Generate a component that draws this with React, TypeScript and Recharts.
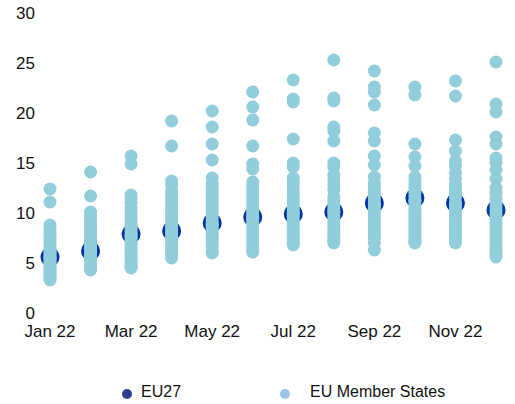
import { ScatterChart, Scatter, XAxis, YAxis, Legend } from "recharts";

const months = ["Jan 22", "Feb 22", "Mar 22", "Apr 22", "May 22", "Jun 22", "Jul 22", "Aug 22", "Sep 22", "Oct 22", "Nov 22", "Dec 22"];
const yTicks = [0, 5, 10, 15, 20, 25, 30];

const eu27 = [5.6, 6.2, 7.9, 8.2, 9.0, 9.6, 9.9, 10.1, 11.0, 11.5, 11.0, 10.3];

const jan = [12.4, 11.1, 8.8, 8.4, 8.0, 7.7, 7.5, 7.2, 6.9, 6.5, 6.2, 6.0, 5.8, 5.6, 5.4, 5.2, 5.0, 4.8, 4.6, 4.4, 4.2, 4.0, 3.8, 3.6, 3.4, 3.3, 5.5];
const feb = [14.1, 11.7, 10.1, 9.7, 9.3, 9.0, 8.7, 8.4, 8.1, 7.8, 7.5, 7.2, 7.0, 6.8, 6.5, 6.2, 6.0, 5.8, 5.6, 5.4, 5.2, 5.0, 4.8, 4.6, 4.4, 4.3, 6.6];
const mar = [15.7, 14.9, 11.8, 11.4, 11.0, 10.5, 10.0, 9.6, 9.2, 8.8, 8.5, 8.2, 7.9, 7.6, 7.3, 7.0, 6.7, 6.4, 6.1, 5.8, 5.5, 5.2, 5.0, 4.8, 4.6, 4.5, 7.7];
const apr = [19.2, 16.7, 13.2, 12.8, 12.2, 11.8, 11.4, 11.0, 10.6, 10.2, 9.9, 9.6, 9.3, 9.0, 8.7, 8.4, 8.1, 7.8, 7.5, 7.2, 6.9, 6.6, 6.3, 6.0, 5.8, 5.5, 8.0];
const may = [20.2, 18.6, 16.9, 15.3, 13.5, 12.9, 12.6, 12.2, 12.0, 11.6, 11.2, 10.8, 10.4, 10.0, 9.6, 9.2, 8.8, 8.5, 8.2, 7.9, 7.6, 7.3, 7.0, 6.6, 6.2, 6.0, 8.9];
const jun = [22.1, 20.6, 19.3, 16.7, 14.9, 14.4, 13.1, 12.6, 12.2, 11.8, 11.4, 11.0, 10.6, 10.3, 10.0, 9.7, 9.4, 9.1, 8.8, 8.4, 8.0, 7.6, 7.2, 6.8, 6.4, 6.1, 9.5];
const jul = [23.3, 21.4, 21.1, 17.4, 15.0, 14.6, 13.5, 13.0, 12.5, 12.0, 11.7, 11.3, 11.0, 10.6, 10.3, 10.0, 9.6, 9.2, 8.8, 8.5, 8.2, 7.9, 7.6, 7.3, 7.0, 6.8, 9.9];
const aug = [25.3, 21.5, 21.2, 18.6, 18.2, 17.2, 15.0, 14.6, 13.8, 13.3, 12.8, 12.3, 11.6, 11.2, 10.8, 10.4, 10.0, 9.6, 9.2, 8.8, 8.4, 8.1, 7.8, 7.5, 7.2, 7.0, 10.1];
const sep = [24.2, 22.6, 22.1, 20.8, 18.0, 17.2, 15.7, 14.8, 13.6, 13.0, 12.6, 12.2, 11.8, 11.4, 11.0, 10.6, 10.2, 9.8, 9.4, 9.0, 8.6, 8.2, 7.8, 7.5, 7.0, 6.3, 10.8];
const oct = [22.6, 21.8, 16.9, 15.6, 14.7, 13.6, 13.2, 12.8, 12.4, 12.0, 11.6, 11.2, 10.8, 10.4, 10.0, 9.7, 9.4, 9.1, 8.8, 8.5, 8.2, 7.9, 7.6, 7.3, 7.1, 7.0, 11.2];
const nov = [23.2, 21.7, 17.3, 16.2, 15.2, 14.7, 14.0, 13.4, 12.8, 12.3, 11.9, 11.5, 11.0, 10.6, 10.2, 9.8, 9.4, 9.0, 8.7, 8.4, 8.1, 7.8, 7.5, 7.2, 7.0, 10.8, 12.0];
const dec = [25.1, 20.9, 20.1, 17.6, 16.9, 15.5, 15.0, 14.3, 13.4, 12.5, 12.0, 11.4, 11.0, 10.6, 10.2, 9.8, 9.4, 9.0, 8.6, 8.2, 7.8, 7.4, 7.0, 6.6, 6.3, 5.9, 5.6];

const memberStates = [jan, feb, mar, apr, may, jun, jul, aug, sep, oct, nov, dec];

const euPoints = eu27.map((v, i) => ({ x: i, y: v }));
const msPoints = memberStates.flatMap((vals, i) => vals.map((v) => ({ x: i, y: v })));

const FONT = "'Liberation Sans', Arial, sans-serif";

function Dot(r: number, fill: string) {
  return (props: any) => <circle cx={props.cx} cy={props.cy} r={r} fill={fill} />;
}

function LegendBox() {
  return (
    <div style={{ position: "relative", height: 24, fontFamily: FONT, fontSize: 16, color: "#111" }}>
      <span style={{ position: "absolute", left: 122, top: 7, width: 10, height: 10, borderRadius: 5, background: "#2E3D8F" }} />
      <span style={{ position: "absolute", left: 141, top: 1 }}>EU27</span>
      <span style={{ position: "absolute", left: 280, top: 7, width: 10, height: 10, borderRadius: 5, background: "#9DC3E6" }} />
      <span style={{ position: "absolute", left: 310, top: 1 }}>EU Member States</span>
    </div>
  );
}

export default function App() {
  return (
    <div style={{ position: "absolute", left: 0, top: 0 }}>
      <ScatterChart width={515} height={404} margin={{ top: 13, right: 19, left: 0, bottom: 0 }}>
        <XAxis
          type="number"
          dataKey="x"
          domain={[0, 11]}
          ticks={[0, 2, 4, 6, 8, 10]}
          tickFormatter={(v) => months[v]}
          axisLine={false}
          tickLine={false}
          tickSize={0}
          tickMargin={12}
          height={67}
          tick={{ fontSize: 17, fill: "#111", fontFamily: FONT }}
        />
        <YAxis
          type="number"
          dataKey="y"
          domain={[0, 30]}
          ticks={yTicks}
          axisLine={false}
          tickLine={false}
          tickSize={0}
          tickMargin={15}
          width={50}
          tick={{ fontSize: 17, fill: "#111", fontFamily: FONT }}
        />
        <Legend verticalAlign="bottom" content={() => <LegendBox />} wrapperStyle={{ left: 0, width: 515, top: 382 }} />
        <Scatter name="EU27" data={euPoints} shape={Dot(9.5, "#0033A0")} isAnimationActive={false} />
        <Scatter name="EU Member States" data={msPoints} shape={Dot(6.5, "#92CDDC")} isAnimationActive={false} />
      </ScatterChart>
    </div>
  );
}
